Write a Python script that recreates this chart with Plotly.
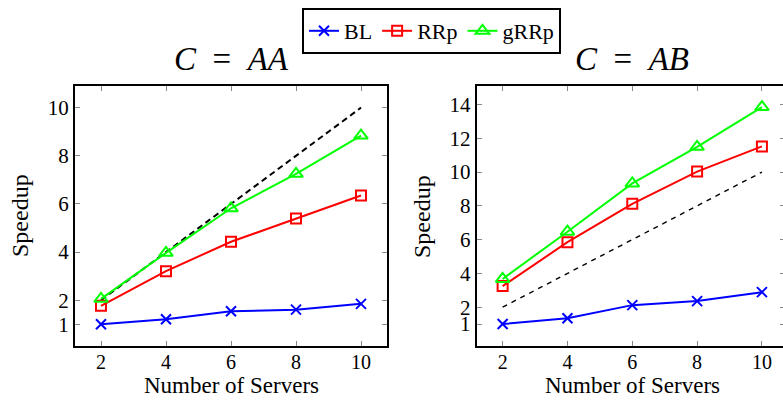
import plotly.graph_objects as go

# Speedup versus number of servers for two configurations
servers = [2, 4, 6, 8, 10]
ideal = [2, 4, 6, 8, 10]

aa_bl = [1.0, 1.21, 1.54, 1.61, 1.85]
aa_rrp = [1.77, 3.21, 4.43, 5.40, 6.35]
aa_grrp = [2.06, 3.97, 5.82, 7.25, 8.84]

ab_bl = [1.0, 1.34, 2.12, 2.36, 2.89]
ab_rrp = [3.25, 5.85, 8.12, 10.03, 11.52]
ab_grrp = [3.67, 6.47, 9.33, 11.50, 13.85]

x_ticks = [2, 4, 6, 8, 10]
aa_y_ticks = [1, 2, 4, 6, 8, 10]
ab_y_ticks = [1, 2, 4, 6, 8, 10, 12, 14]

W, H = 783, 400
FONT = "'Liberation Serif', 'DejaVu Serif', serif"

BLUE, RED, GREEN = "#0000ff", "#ff0000", "#00ff00"

series = [
    ("BL", BLUE, "x-thin", 10),
    ("RRp", RED, "square-open", 10),
    ("gRRp", GREEN, "triangle-up-open", 12),
]

fig = go.Figure()

for panel, (bl, rrp, grrp) in enumerate([(aa_bl, aa_rrp, aa_grrp), (ab_bl, ab_rrp, ab_grrp)]):
    xa = "x" if panel == 0 else "x2"
    ya = "y" if panel == 0 else "y2"
    fig.add_trace(go.Scatter(
        x=servers, y=ideal, xaxis=xa, yaxis=ya, mode="lines",
        line=dict(color="black", width=2 if panel == 0 else 1.4,
                  dash="6px,4px" if panel == 0 else "5px,5px"),
        showlegend=False, hoverinfo="skip",
    ))
    for (name, color, symbol, size), vals in zip(series, (bl, rrp, grrp)):
        fig.add_trace(go.Scatter(
            x=servers, y=vals, xaxis=xa, yaxis=ya, name=name,
            mode="lines+markers",
            line=dict(color=color, width=2),
            marker=dict(symbol=symbol, size=size, color=color,
                        line=dict(color=color, width=2)),
            showlegend=(panel == 0),
        ))

tick_font = dict(family=FONT, size=21, color="black")
x_tick_font = dict(family=FONT, size=20, color="black")
common_x = dict(range=[1.2, 10.8], tickvals=x_ticks, ticks="inside", ticklen=5,
                tickcolor="#888", tickwidth=1, showline=True, linecolor="black",
                linewidth=2, mirror="ticks", showgrid=False, zeroline=False,
                tickfont=x_tick_font, ticklabelstandoff=-3)
common_y = dict(ticks="inside", ticklen=5, tickcolor="#888", tickwidth=1,
                showline=True, linecolor="black", linewidth=2, showgrid=False,
                zeroline=False, tickfont=tick_font)

y_dom = [1 - 346 / H, 1 - 86 / H]

fig.update_layout(
    width=W, height=H,
    margin=dict(l=0, r=0, t=0, b=0),
    paper_bgcolor="white", plot_bgcolor="white",
    font=dict(family=FONT, color="black"),
    xaxis=dict(domain=[75 / W, 387 / W], anchor="y", **common_x),
    yaxis=dict(domain=y_dom, anchor="x", range=[0.1, 10.9], tickvals=aa_y_ticks,
               mirror="ticks", **common_y),
    xaxis2=dict(domain=[476.7 / W, 1.0], anchor="y2",
                **{**common_x, "range": [1.2, 10.65]}),
    yaxis2=dict(domain=y_dom, anchor="x2", range=[-0.3, 15.1], tickvals=ab_y_ticks,
                mirror=False, **common_y),
    yaxis3=dict(overlaying="y2", anchor="x2", side="right", range=[-0.3, 15.1],
                tickvals=ab_y_ticks, ticks="inside", ticklen=3, tickcolor="#888",
                tickwidth=1, showticklabels=False, showline=False,
                showgrid=False, zeroline=False),
    legend=dict(orientation="h", x=302 / W, xanchor="left", y=1 - 8 / H,
                yanchor="top", bordercolor="black", borderwidth=2,
                font=dict(family=FONT, size=22, color="black"),
                bgcolor="white"),
    showlegend=True,
)

# keep the overlay axis alive with an invisible trace
fig.add_trace(go.Scatter(x=[servers[0]], y=[ideal[0]], xaxis="x2", yaxis="y3",
                         mode="markers", marker=dict(opacity=0), showlegend=False,
                         hoverinfo="skip"))

annotations = [
    dict(text="<i>C</i>&nbsp; =&nbsp; <i>AA</i>", x=231 / W, y=1 - 59 / H, size=33, anchor="middle"),
    dict(text="<i>C</i>&nbsp; =&nbsp; <i>AB</i>", x=632 / W, y=1 - 59 / H, size=33, anchor="middle"),
    dict(text="Number of Servers", x=231 / W, y=0.0, size=23, anchor="bottom"),
    dict(text="Number of Servers", x=632 / W, y=0.0, size=23, anchor="bottom"),
]
for a in annotations:
    fig.add_annotation(text=a["text"], x=a["x"], y=a["y"], xref="paper", yref="paper",
                       xanchor="center", yanchor=a["anchor"], showarrow=False,
                       font=dict(family=FONT, size=a["size"], color="black"))
for xc in (20, 422):
    fig.add_annotation(text="Speedup", x=xc / W, y=1 - 216 / H, xref="paper",
                       yref="paper", xanchor="center", yanchor="middle",
                       textangle=-90, showarrow=False,
                       font=dict(family=FONT, size=24, color="black"))

fig.write_html("out.html")
